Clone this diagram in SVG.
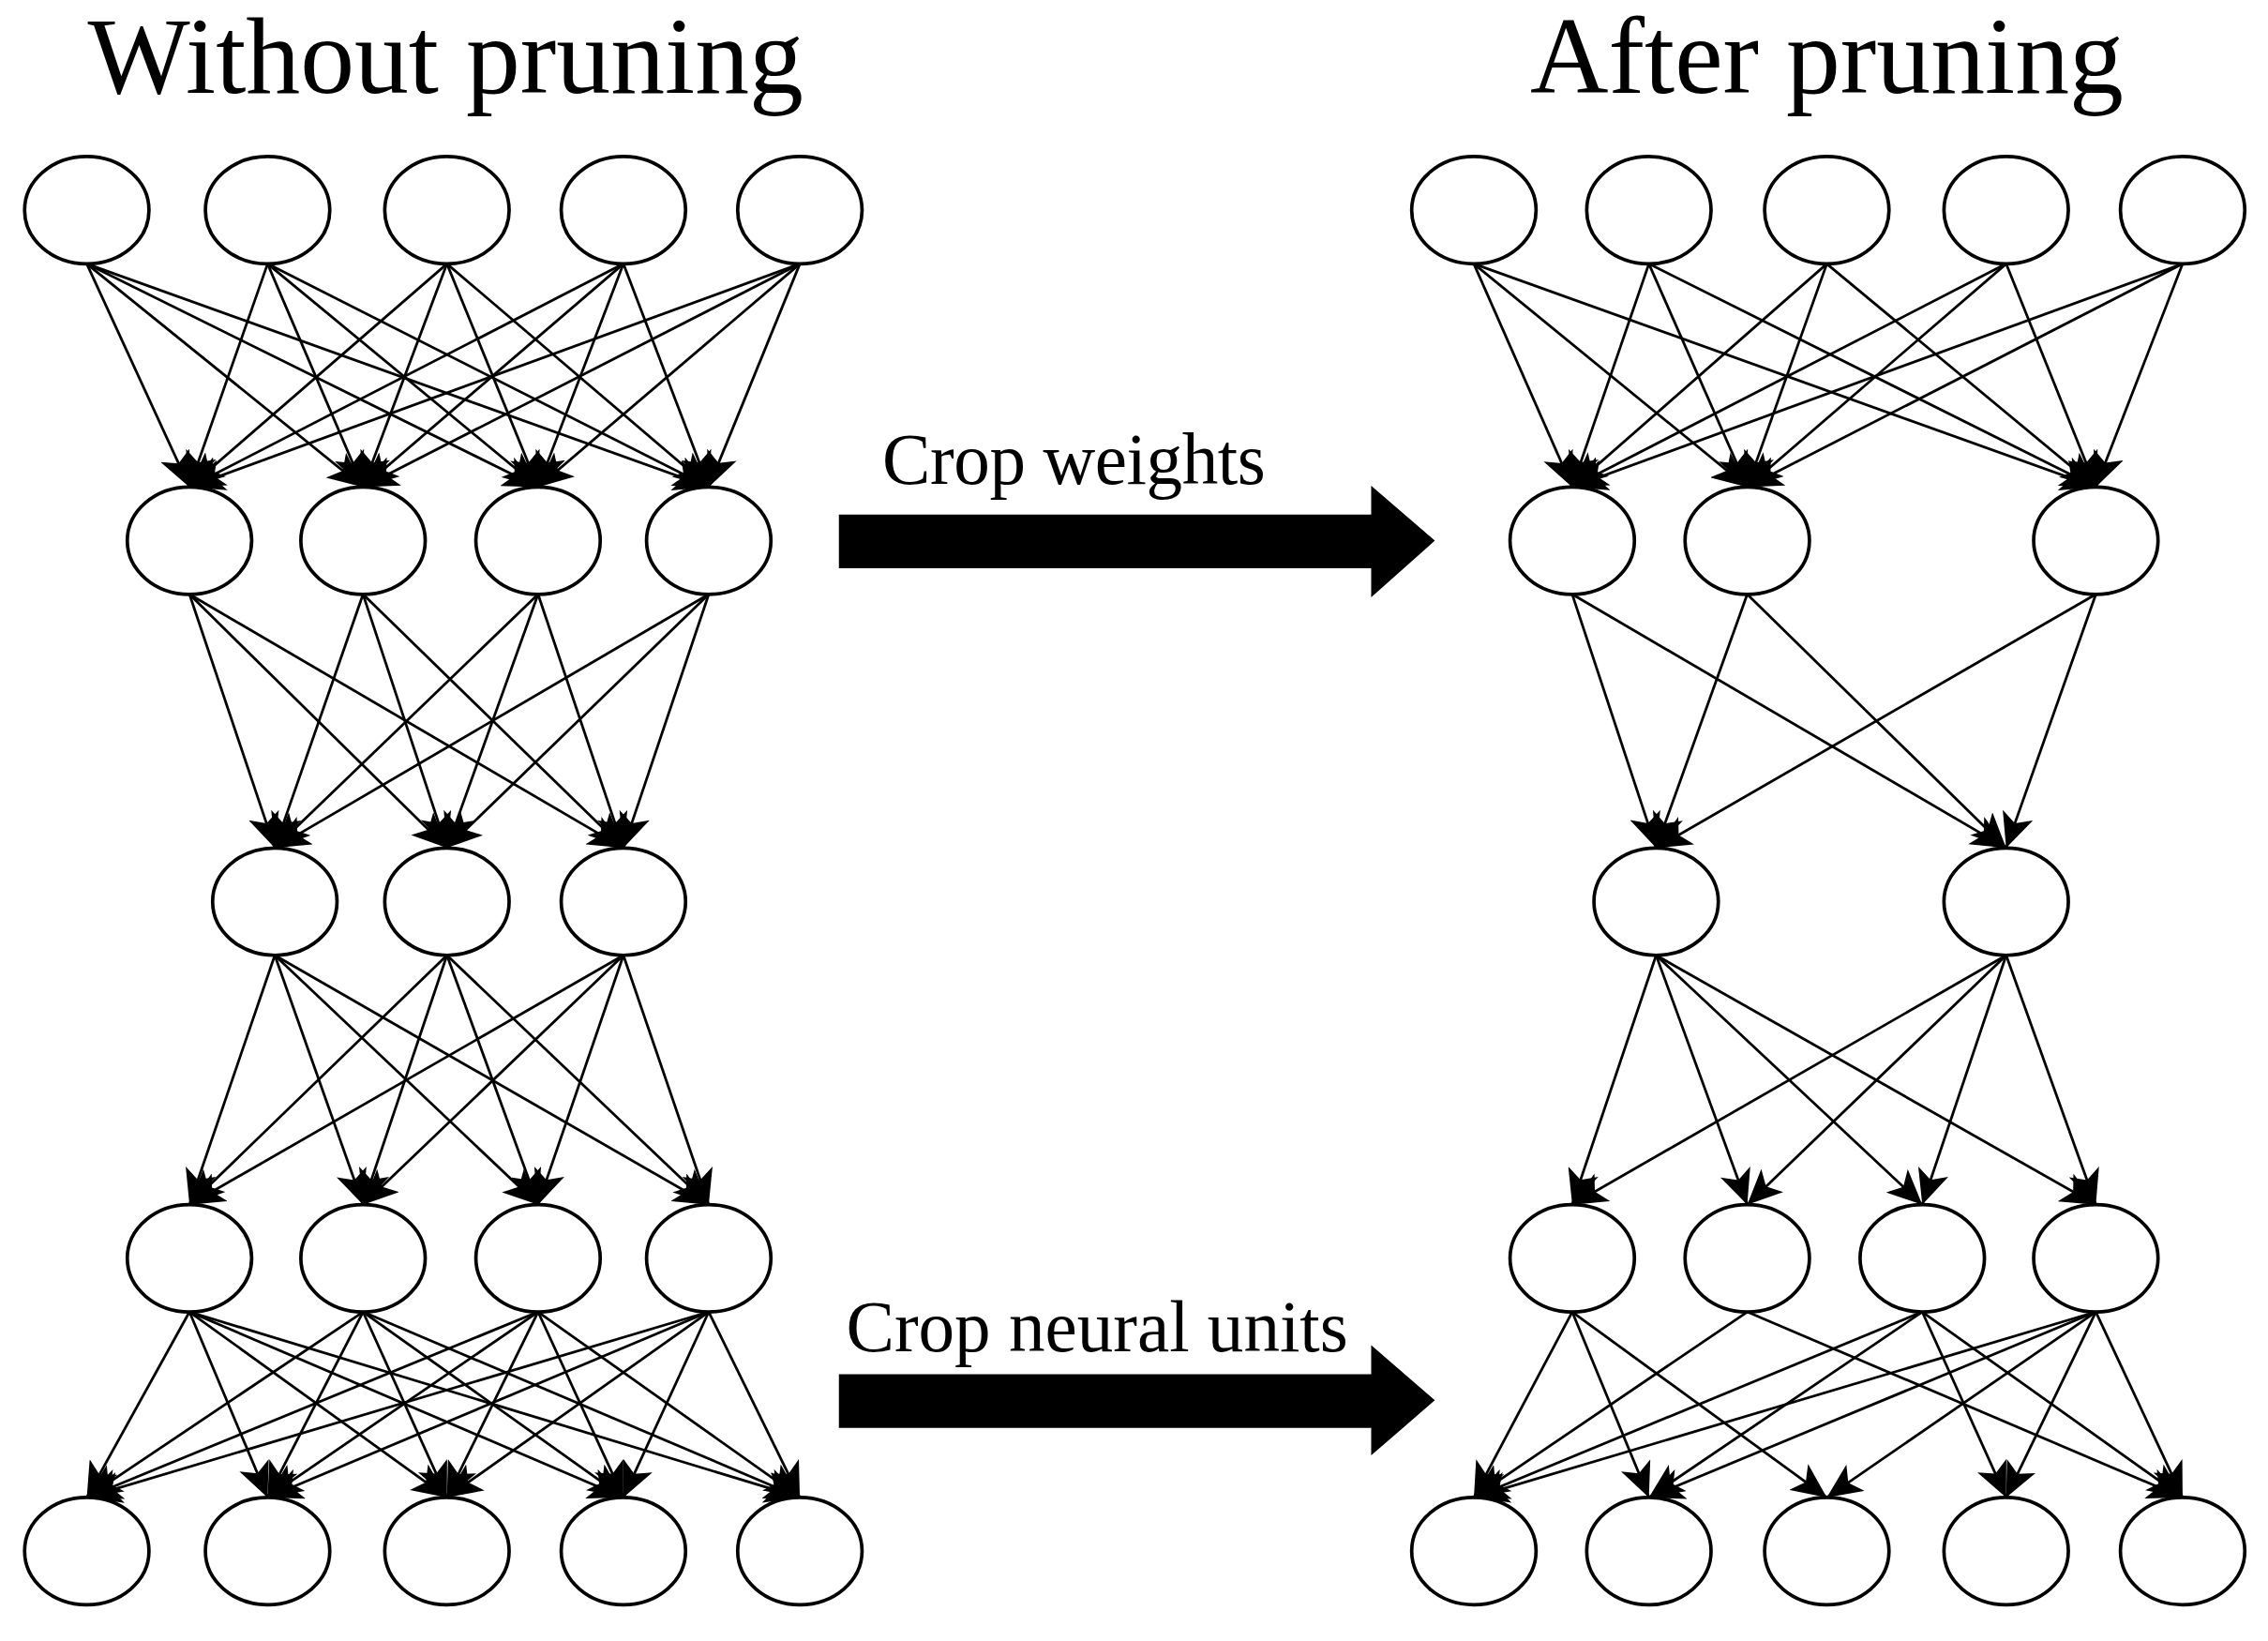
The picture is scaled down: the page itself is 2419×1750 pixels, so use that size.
<svg xmlns="http://www.w3.org/2000/svg" width="2419" height="1750" viewBox="0 0 2419 1750">
<style>
.n{fill:#fff;stroke:#000;stroke-width:2.4}
.e line{stroke:#000;stroke-width:1.8;marker-end:url(#ah)}
.t{font-family:"Liberation Serif","Times New Roman",serif;fill:#000}
</style>
<defs>
<marker id="ah" markerUnits="userSpaceOnUse" markerWidth="26" markerHeight="22" refX="24" refY="11" orient="auto"><path d="M0,0 L24,11 L0,22 L6,11 Z" fill="#000"/></marker>
</defs>
<rect width="2419" height="1750" fill="#fff"/>
<g transform="scale(1.5427,1.5459)">
<text class="t" x="308" y="64" font-size="75" text-anchor="middle">Without pruning</text>
<text class="t" x="1263" y="64" font-size="75" text-anchor="middle">After pruning</text>
<g id="arrow1"><text class="t" x="610" y="334" font-size="50" textLength="265">Crop weights</text><path d="M580,355 H948 V335 L992,373 L948,412 V392 H580 Z" fill="#000"/></g>
<g id="arrow2"><text class="t" x="585" y="932" font-size="50" textLength="347">Crop neural units</text><path d="M580,948 H948 V928 L992,966 L948,1004 V985 H580 Z" fill="#000"/></g>
<g class="e" id="connectors">
<line x1="60" y1="182" x2="131" y2="336"/><line x1="60" y1="182" x2="251" y2="336"/><line x1="60" y1="182" x2="372" y2="336"/><line x1="60" y1="182" x2="490" y2="336"/>
<line x1="185" y1="182" x2="131" y2="336"/><line x1="185" y1="182" x2="251" y2="336"/><line x1="185" y1="182" x2="372" y2="336"/><line x1="185" y1="182" x2="490" y2="336"/>
<line x1="309" y1="182" x2="131" y2="336"/><line x1="309" y1="182" x2="251" y2="336"/><line x1="309" y1="182" x2="372" y2="336"/><line x1="309" y1="182" x2="490" y2="336"/>
<line x1="431" y1="182" x2="131" y2="336"/><line x1="431" y1="182" x2="251" y2="336"/><line x1="431" y1="182" x2="372" y2="336"/><line x1="431" y1="182" x2="490" y2="336"/>
<line x1="553" y1="182" x2="131" y2="336"/><line x1="553" y1="182" x2="251" y2="336"/><line x1="553" y1="182" x2="372" y2="336"/><line x1="553" y1="182" x2="490" y2="336"/>
<line x1="131" y1="410" x2="190" y2="585"/><line x1="131" y1="410" x2="309" y2="585"/><line x1="131" y1="410" x2="431" y2="585"/>
<line x1="251" y1="410" x2="190" y2="585"/><line x1="251" y1="410" x2="309" y2="585"/><line x1="251" y1="410" x2="431" y2="585"/>
<line x1="372" y1="410" x2="190" y2="585"/><line x1="372" y1="410" x2="309" y2="585"/><line x1="372" y1="410" x2="431" y2="585"/>
<line x1="490" y1="410" x2="190" y2="585"/><line x1="490" y1="410" x2="309" y2="585"/><line x1="490" y1="410" x2="431" y2="585"/>
<line x1="190" y1="659" x2="131" y2="831"/><line x1="190" y1="659" x2="251" y2="831"/><line x1="190" y1="659" x2="372" y2="831"/><line x1="190" y1="659" x2="490" y2="831"/>
<line x1="309" y1="659" x2="131" y2="831"/><line x1="309" y1="659" x2="251" y2="831"/><line x1="309" y1="659" x2="372" y2="831"/><line x1="309" y1="659" x2="490" y2="831"/>
<line x1="431" y1="659" x2="131" y2="831"/><line x1="431" y1="659" x2="251" y2="831"/><line x1="431" y1="659" x2="372" y2="831"/><line x1="431" y1="659" x2="490" y2="831"/>
<line x1="131" y1="905" x2="60" y2="1033"/><line x1="131" y1="905" x2="185" y2="1033"/><line x1="131" y1="905" x2="309" y2="1033"/><line x1="131" y1="905" x2="431" y2="1033"/><line x1="131" y1="905" x2="553" y2="1033"/>
<line x1="251" y1="905" x2="60" y2="1033"/><line x1="251" y1="905" x2="185" y2="1033"/><line x1="251" y1="905" x2="309" y2="1033"/><line x1="251" y1="905" x2="431" y2="1033"/><line x1="251" y1="905" x2="553" y2="1033"/>
<line x1="372" y1="905" x2="60" y2="1033"/><line x1="372" y1="905" x2="185" y2="1033"/><line x1="372" y1="905" x2="309" y2="1033"/><line x1="372" y1="905" x2="431" y2="1033"/><line x1="372" y1="905" x2="553" y2="1033"/>
<line x1="490" y1="905" x2="60" y2="1033"/><line x1="490" y1="905" x2="185" y2="1033"/><line x1="490" y1="905" x2="309" y2="1033"/><line x1="490" y1="905" x2="431" y2="1033"/><line x1="490" y1="905" x2="553" y2="1033"/>
<line x1="1019" y1="182" x2="1087" y2="336"/><line x1="1019" y1="182" x2="1208" y2="336"/><line x1="1019" y1="182" x2="1449" y2="336"/>
<line x1="1140" y1="182" x2="1087" y2="336"/><line x1="1140" y1="182" x2="1208" y2="336"/><line x1="1140" y1="182" x2="1449" y2="336"/>
<line x1="1263" y1="182" x2="1087" y2="336"/><line x1="1263" y1="182" x2="1208" y2="336"/><line x1="1263" y1="182" x2="1449" y2="336"/>
<line x1="1387" y1="182" x2="1087" y2="336"/><line x1="1387" y1="182" x2="1208" y2="336"/><line x1="1387" y1="182" x2="1449" y2="336"/>
<line x1="1509" y1="182" x2="1087" y2="336"/><line x1="1509" y1="182" x2="1208" y2="336"/><line x1="1509" y1="182" x2="1449" y2="336"/>
<line x1="1087" y1="410" x2="1145" y2="585"/><line x1="1087" y1="410" x2="1387" y2="585"/>
<line x1="1208" y1="410" x2="1145" y2="585"/><line x1="1208" y1="410" x2="1387" y2="585"/>
<line x1="1449" y1="410" x2="1145" y2="585"/><line x1="1449" y1="410" x2="1387" y2="585"/>
<line x1="1145" y1="659" x2="1087" y2="831"/><line x1="1145" y1="659" x2="1208" y2="831"/><line x1="1145" y1="659" x2="1329" y2="831"/><line x1="1145" y1="659" x2="1449" y2="831"/>
<line x1="1387" y1="659" x2="1087" y2="831"/><line x1="1387" y1="659" x2="1208" y2="831"/><line x1="1387" y1="659" x2="1329" y2="831"/><line x1="1387" y1="659" x2="1449" y2="831"/>
<line x1="1087" y1="905" x2="1019" y2="1033"/><line x1="1087" y1="905" x2="1140" y2="1033"/><line x1="1087" y1="905" x2="1263" y2="1033"/>
<line x1="1208" y1="905" x2="1019" y2="1033"/><line x1="1208" y1="905" x2="1509" y2="1033"/>
<line x1="1329" y1="905" x2="1019" y2="1033"/><line x1="1329" y1="905" x2="1140" y2="1033"/><line x1="1329" y1="905" x2="1387" y2="1033"/><line x1="1329" y1="905" x2="1509" y2="1033"/>
<line x1="1449" y1="905" x2="1019" y2="1033"/><line x1="1449" y1="905" x2="1140" y2="1033"/><line x1="1449" y1="905" x2="1263" y2="1033"/><line x1="1449" y1="905" x2="1387" y2="1033"/><line x1="1449" y1="905" x2="1509" y2="1033"/>
</g>
<g id="L1a"><ellipse class="n" cx="60" cy="145" rx="43" ry="37"/></g><g id="L1b"><ellipse class="n" cx="185" cy="145" rx="43" ry="37"/></g><g id="L1c"><ellipse class="n" cx="309" cy="145" rx="43" ry="37"/></g><g id="L1d"><ellipse class="n" cx="431" cy="145" rx="43" ry="37"/></g><g id="L1e"><ellipse class="n" cx="553" cy="145" rx="43" ry="37"/></g>
<g id="L2a"><ellipse class="n" cx="131" cy="373" rx="43" ry="37"/></g><g id="L2b"><ellipse class="n" cx="251" cy="373" rx="43" ry="37"/></g><g id="L2c"><ellipse class="n" cx="372" cy="373" rx="43" ry="37"/></g><g id="L2d"><ellipse class="n" cx="490" cy="373" rx="43" ry="37"/></g>
<g id="L3a"><ellipse class="n" cx="190" cy="622" rx="43" ry="37"/></g><g id="L3b"><ellipse class="n" cx="309" cy="622" rx="43" ry="37"/></g><g id="L3c"><ellipse class="n" cx="431" cy="622" rx="43" ry="37"/></g>
<g id="L4a"><ellipse class="n" cx="131" cy="868" rx="43" ry="37"/></g><g id="L4b"><ellipse class="n" cx="251" cy="868" rx="43" ry="37"/></g><g id="L4c"><ellipse class="n" cx="372" cy="868" rx="43" ry="37"/></g><g id="L4d"><ellipse class="n" cx="490" cy="868" rx="43" ry="37"/></g>
<g id="L5a"><ellipse class="n" cx="60" cy="1070" rx="43" ry="37"/></g><g id="L5b"><ellipse class="n" cx="185" cy="1070" rx="43" ry="37"/></g><g id="L5c"><ellipse class="n" cx="309" cy="1070" rx="43" ry="37"/></g><g id="L5d"><ellipse class="n" cx="431" cy="1070" rx="43" ry="37"/></g><g id="L5e"><ellipse class="n" cx="553" cy="1070" rx="43" ry="37"/></g>
<g id="R1a"><ellipse class="n" cx="1019" cy="145" rx="43" ry="37"/></g><g id="R1b"><ellipse class="n" cx="1140" cy="145" rx="43" ry="37"/></g><g id="R1c"><ellipse class="n" cx="1263" cy="145" rx="43" ry="37"/></g><g id="R1d"><ellipse class="n" cx="1387" cy="145" rx="43" ry="37"/></g><g id="R1e"><ellipse class="n" cx="1509" cy="145" rx="43" ry="37"/></g>
<g id="R2a"><ellipse class="n" cx="1087" cy="373" rx="43" ry="37"/></g><g id="R2b"><ellipse class="n" cx="1208" cy="373" rx="43" ry="37"/></g><g id="R2c"><ellipse class="n" cx="1449" cy="373" rx="43" ry="37"/></g>
<g id="R3a"><ellipse class="n" cx="1145" cy="622" rx="43" ry="37"/></g><g id="R3b"><ellipse class="n" cx="1387" cy="622" rx="43" ry="37"/></g>
<g id="R4a"><ellipse class="n" cx="1087" cy="868" rx="43" ry="37"/></g><g id="R4b"><ellipse class="n" cx="1208" cy="868" rx="43" ry="37"/></g><g id="R4c"><ellipse class="n" cx="1329" cy="868" rx="43" ry="37"/></g><g id="R4d"><ellipse class="n" cx="1449" cy="868" rx="43" ry="37"/></g>
<g id="R5a"><ellipse class="n" cx="1019" cy="1070" rx="43" ry="37"/></g><g id="R5b"><ellipse class="n" cx="1140" cy="1070" rx="43" ry="37"/></g><g id="R5c"><ellipse class="n" cx="1263" cy="1070" rx="43" ry="37"/></g><g id="R5d"><ellipse class="n" cx="1387" cy="1070" rx="43" ry="37"/></g><g id="R5e"><ellipse class="n" cx="1509" cy="1070" rx="43" ry="37"/></g>
</g>
</svg>
